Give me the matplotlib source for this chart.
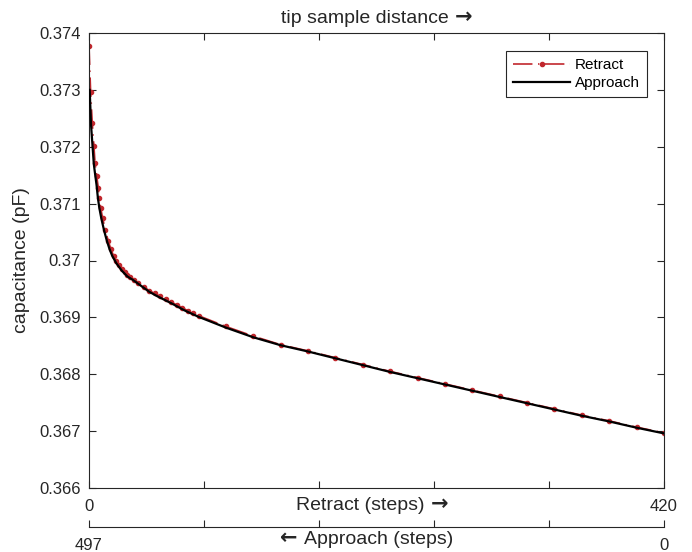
import matplotlib
matplotlib.use("Agg")
import matplotlib.pyplot as plt
from matplotlib.lines import Line2D

plt.rcParams['font.family'] = ['Liberation Sans', 'DejaVu Sans']
plt.rcParams['lines.scale_dashes'] = False

# ---- data ----
retract_x = [0, 1.2, 2.4, 3.6, 4.4, 5.6, 6.8, 7.5, 8.5, 10, 12, 14, 16, 18, 20, 22, 24, 26, 28, 30,
             33, 36, 40, 44, 48, 52, 56, 60, 64, 68, 72, 76, 80, 100, 120, 140, 160, 180, 200,
             220, 240, 260, 280, 300, 320, 340, 360, 380, 400, 420]
retract_y = [0.37378, 0.37296, 0.37241, 0.37201, 0.37172, 0.37149, 0.37128, 0.37110, 0.37093, 0.37074,
             0.37053, 0.37035, 0.37020, 0.37008, 0.36999, 0.36992, 0.36985, 0.36979, 0.36974, 0.36971,
             0.36966, 0.36961, 0.36954, 0.36947, 0.36942, 0.36937, 0.36932, 0.36927, 0.36922, 0.36917,
             0.36912, 0.36907, 0.36903, 0.36884, 0.36867, 0.36852, 0.36841, 0.36829, 0.36817,
             0.36805, 0.36794, 0.36783, 0.36772, 0.36761, 0.36750, 0.36739, 0.36728, 0.36718, 0.36707,
             0.36697]

approach_x = [0.5, 1.5, 2.5, 3.5, 4.5, 5.5, 6.5, 7.5, 9, 11, 13, 15, 17, 20, 24, 28, 32, 36, 40, 44,
              50, 60, 70, 80, 100, 120, 140, 160, 180, 200, 220, 240, 260, 280, 300, 320, 340, 360,
              380, 400, 420]
approach_y = [0.37300, 0.37238, 0.37204, 0.37170, 0.37151, 0.37133, 0.37110, 0.37093, 0.37074, 0.37053,
              0.37035, 0.37020, 0.37008, 0.36995, 0.36982, 0.36972, 0.36966, 0.36959, 0.36952, 0.36945,
              0.36937, 0.36925, 0.36912, 0.36901, 0.36882, 0.36865, 0.36851, 0.36840, 0.36828, 0.36816,
              0.36804, 0.36793, 0.36782, 0.36771, 0.36760, 0.36749, 0.36738, 0.36727, 0.36717, 0.36706,
              0.36696]

retract_ticks = [0, 84, 168, 252, 336, 420]
retract_ticklabels = ['0', '', '', '', '', '420']
approach_ticks = [497, 397.6, 298.2, 198.8, 99.4, 0]
approach_ticklabels = ['497', '', '', '', '', '0']
y_ticks = [0.366, 0.367, 0.368, 0.369, 0.370, 0.371, 0.372, 0.373, 0.374]

TXT = '#262626'
RED = '#C1272D'

W, H = 692, 552
fig = plt.figure(figsize=(W / 100, H / 100), dpi=100)
L, R, T, B = 89, 664, 33, 488
ax = fig.add_axes([L / W, 1 - B / H, (R - L) / W, (B - T) / H])

ax.plot(approach_x, approach_y, color='black', lw=1.6, label='Approach', zorder=3)
ax.plot(retract_x, retract_y, color=RED, lw=1.2, dashes=(14, 4, 1, 4), marker='.', ms=6,
        label='Retract', zorder=2)

ax.set_xlim(0, 420)
ax.set_ylim(0.366, 0.374)
ax.set_xticks(retract_ticks)
ax.set_xticklabels(retract_ticklabels)
ax.set_yticks(y_ticks)
ax.set_yticklabels([f"{v:g}" for v in y_ticks])
ax.tick_params(direction='in', length=5, width=0.8, top=True, right=True,
               labelsize=12, colors=TXT, pad=6)
ax.tick_params(axis='x', pad=8)
for s in ax.spines.values():
    s.set_color(TXT)
    s.set_linewidth(0.8)

renderer = fig.canvas.get_renderer()


def label_with_arrow(text, arrow, arrow_first, cx, cy):
    """Draw text plus a bold arrow glyph, centred at pixel (cx, cy from top)."""
    t = fig.text(0, 0, text, fontsize=14, color=TXT, ha='left', va='baseline')
    a = fig.text(0, 0, arrow, fontsize=15, color=TXT, ha='left', va='baseline',
                 family='DejaVu Sans', fontweight='bold')
    wt = t.get_window_extent(renderer).width
    wa = a.get_window_extent(renderer).width
    gap = 6
    total = wt + gap + wa
    x0 = cx - total / 2
    base = H - cy - 5
    if arrow_first:
        a.set_position((x0 / W, base / H))
        t.set_position(((x0 + wa + gap) / W, base / H))
    else:
        t.set_position((x0 / W, base / H))
        a.set_position(((x0 + wt + gap) / W, base / H))


cx = (L + R) / 2
label_with_arrow('Retract (steps)', '\u2192', False, cx - 4, 505)
label_with_arrow('tip sample distance', '\u2192', False, cx, 18)
label_with_arrow('Approach (steps)', '\u2190', True, cx - 10, 539)
fig.text(22 / W, 1 - ((T + B) / 2) / H, 'capacitance (pF)', rotation=90, ha='center',
         va='center', fontsize=14, color=TXT)

# legend
h_ret = Line2D([], [], color=RED, lw=1.2, dashes=(14, 4, 1, 4), marker='.', ms=6)
h_app = Line2D([], [], color='black', lw=1.6)
leg = ax.legend([h_ret, h_app], ['Retract', 'Approach'], loc='upper right',
                bbox_to_anchor=((647 - L) / (R - L), (B - 51) / (B - T)), borderaxespad=0,
                fontsize=11, fancybox=False, edgecolor=TXT, framealpha=1,
                handlelength=3.7, handletextpad=0.35, labelspacing=0.3, borderpad=0.45,
                numpoints=1)
leg.get_frame().set_linewidth(0.8)

# second axis for approach
ax2 = fig.add_axes([L / W, 1 - 527 / H, (R - L) / W, 1e-6])
ax2.patch.set_visible(False)
for k in ['left', 'right', 'top']:
    ax2.spines[k].set_visible(False)
ax2.spines['bottom'].set_color(TXT)
ax2.spines['bottom'].set_linewidth(0.8)
ax2.set_yticks([])
ax2.set_xlim(497, 0)
ax2.set_xticks(approach_ticks)
ax2.set_xticklabels(approach_ticklabels)
ax2.tick_params(axis='x', direction='in', length=5, width=0.8, labelsize=12, colors=TXT, pad=8)

fig.savefig('out.png', dpi=100)
